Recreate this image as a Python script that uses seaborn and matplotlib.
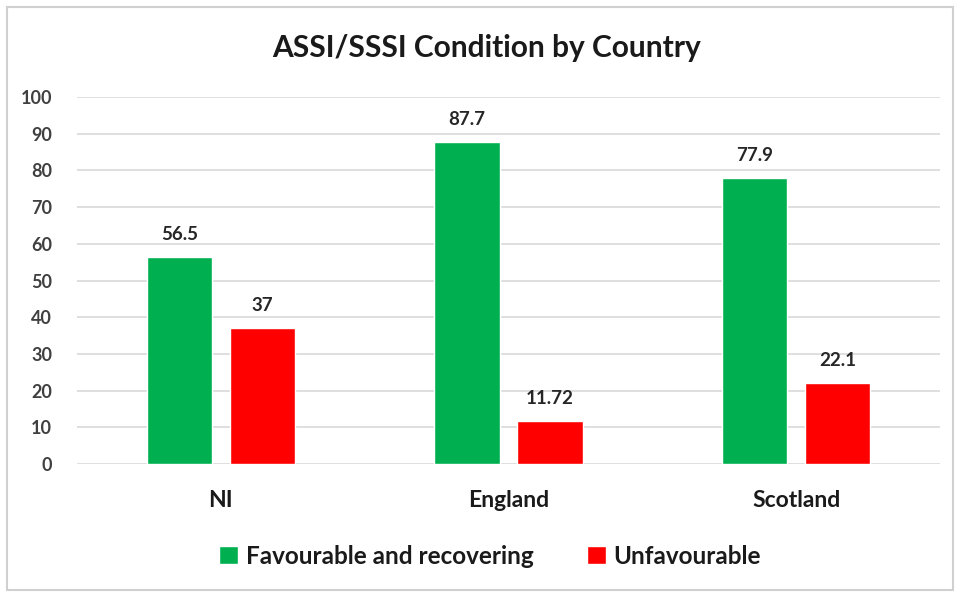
import matplotlib
matplotlib.use("Agg")
import matplotlib.pyplot as plt
from matplotlib.patches import Rectangle
import seaborn as sns
import pandas as pd

# Site condition shares (%) per country
countries = ["NI", "England", "Scotland"]
favourable = [56.5, 87.7, 77.9]
unfavourable = [37, 11.72, 22.1]
value_labels_fav = ["56.5", "87.7", "77.9"]
value_labels_unfav = ["37", "11.72", "22.1"]
series_names = ["Favourable and recovering", "Unfavourable"]
y_ticks = list(range(0, 101, 10))

df = pd.DataFrame({
    "Country": countries * 2,
    "Condition": [series_names[0]] * 3 + [series_names[1]] * 3,
    "Value": favourable + unfavourable,
    "Label": value_labels_fav + value_labels_unfav,
})

sns.set_theme(style="white")
plt.rcParams["font.family"] = ["Lato", "DejaVu Sans"]

text_col = "#404040"
fig = plt.figure(figsize=(9.56, 5.93), dpi=100)
ax = fig.add_axes([77 / 956, 1 - 464 / 593, (940 - 77) / 956, (464 - 97) / 593])

palette = {series_names[0]: "#00B050", series_names[1]: "#FF0000"}
sns.barplot(data=df, x="Country", y="Value", hue="Condition", order=countries,
            hue_order=series_names, palette=palette, width=0.575, gap=0.21,
            saturation=1, ax=ax, zorder=3, legend=True)

ax.set_ylim(0, 100)
ax.set_xlim(-0.5, 2.5)
ax.set_yticks(y_ticks)
ax.set_yticklabels([str(t) for t in y_ticks], fontsize=13, fontweight="bold", color=text_col)
ax.tick_params(axis="y", length=0, pad=18)
ax.tick_params(axis="x", length=0, pad=19)
for lbl in ax.get_xticklabels():
    lbl.set_fontsize(16.5)
    lbl.set_fontweight("bold")
    lbl.set_color("#1a1a1a")
ax.set_xlabel("")
ax.set_ylabel("")
ax.yaxis.grid(True, color="#d9d9d9", linewidth=1.2, zorder=0)
ax.xaxis.grid(False)
for s in ax.spines.values():
    s.set_visible(False)

# Value labels above each bar
for cont, name in zip(ax.containers, series_names):
    labels = df[df["Condition"] == name]["Label"].tolist()
    ax.bar_label(cont, labels=labels, padding=10, fontsize=13.5,
                 fontweight="bold", color="#262626")

# Legend below the category labels
handles, lbls = ax.get_legend_handles_labels()
ax.legend_.remove()
fig.legend(handles, lbls, loc="center", bbox_to_anchor=(490 / 956, 1 - 556 / 593),
           ncol=2, frameon=False, handlelength=0.8, handleheight=0.8,
           handletextpad=0.3, columnspacing=2.2,
           prop={"size": 17.5, "weight": "bold"}, labelcolor="#1a1a1a")

fig.text(487 / 956, 1 - 48 / 593, "ASSI/SSSI Condition by Country", ha="center",
         va="center", fontsize=21.5, fontweight="bold", color="#1a1a1a")

# Chart frame
fig.patches.append(Rectangle((7 / 956, 3 / 593), 946 / 956, 583 / 593,
                             transform=fig.transFigure, fill=False,
                             edgecolor="#d0d0d0", linewidth=1.5))

fig.savefig("out.png", dpi=100, facecolor="white")
